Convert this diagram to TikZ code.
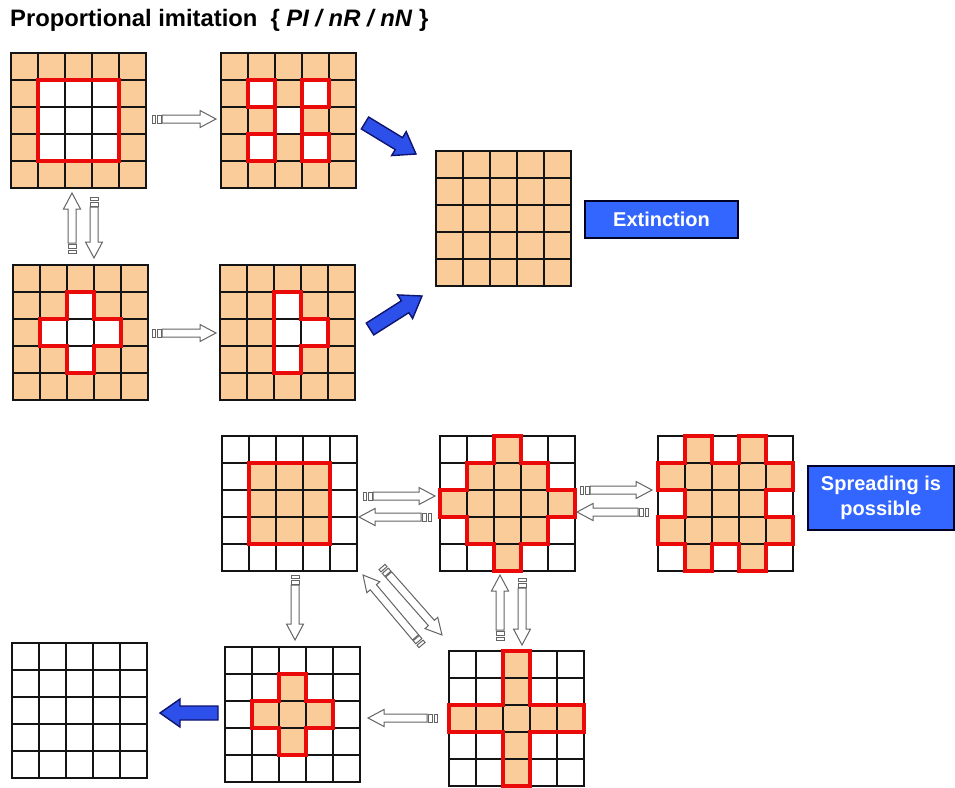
\documentclass[tikz,border=0pt]{standalone}
\usetikzlibrary{calc}
\usepackage{fontspec}
\setmainfont{Liberation Sans}
\definecolor{peach}{RGB}{250,204,153}
\definecolor{redl}{RGB}{235,10,10}
\definecolor{gridk}{RGB}{20,20,20}
\definecolor{boxblue}{RGB}{51,102,255}
\definecolor{arrblue}{RGB}{45,80,235}
\definecolor{navyb}{RGB}{15,20,110}
\definecolor{arrgray}{RGB}{100,100,100}
\tikzset{
 gl/.style={draw=gridk,line width=2pt},
 rl/.style={draw=redl,line width=3.6pt,line join=miter},
 gridnode/.style={inner sep=0pt,minimum size=135pt},
 stripe/.style={draw=arrgray,fill=white,line width=1pt,line join=miter},
 barrow/.style={draw=navyb,fill=arrblue,line width=1.4pt,line join=miter},
 labelbox/.style={draw=black!85!blue,fill=boxblue,line width=1.6pt,text=white,
   font=\bfseries\fontsize{20}{25}\selectfont,align=center,inner sep=0pt},
}
\newcommand\cellsgrid{%
  \foreach \i in {1,...,4}{\draw[gl] (\i,0) -- (\i,5); \draw[gl] (0,\i) -- (5,\i);}%
  \draw[gl] (0,0) rectangle (5,5);}
\newcommand\pcells[1]{\foreach \c/\r in {#1}{\fill[peach] (\c,\r) rectangle ++(1,1);}}
\newcommand\getdir[2]{%
  \path let \p1=(#1), \p2=(#2) in \pgfextra{%
    \pgfmathsetmacro\tmpang{atan2(\y2-\y1,\x2-\x1)}%
    \pgfmathsetmacro\tmplen{veclen(\x2-\x1,\y2-\y1)}%
    \global\let\gang\tmpang \global\let\glen\tmplen};}
\newcommand\stripearrow[2]{%
  \getdir{#1}{#2}%
  \pgfmathsetmacro\hb{\glen-16}%
  \begin{scope}[shift={(#1)},rotate=\gang]
    \draw[stripe] (0pt,-4pt) rectangle (3pt,4pt);
    \draw[stripe] (5pt,-4pt) rectangle (9pt,4pt);
    \draw[stripe] (10pt,-4pt) -- (\hb pt,-4pt) -- (\hb pt,-8.5pt) -- (\glen pt,0pt)
      -- (\hb pt,8.5pt) -- (\hb pt,4pt) -- (10pt,4pt) -- cycle;
  \end{scope}}
\newcommand\bluearrow[2]{%
  \getdir{#1}{#2}%
  \pgfmathsetmacro\hb{\glen-20}%
  \begin{scope}[shift={(#1)},rotate=\gang]
    \draw[barrow] (0pt,-7pt) -- (\hb pt,-7pt) -- (\hb pt,-14pt) -- (\glen pt,0pt)
      -- (\hb pt,14pt) -- (\hb pt,7pt) -- (0pt,7pt) -- cycle;
  \end{scope}}
\begin{document}
\begin{tikzpicture}[x=1pt,y=-1pt]
\useasboundingbox (0,0) rectangle (955,787);
\fill[white] (0,0) rectangle (955,787);

\node[anchor=base west,inner sep=0pt,font=\bfseries\fontsize{23.8}{28}\selectfont] (title) at (10,27)
  {Proportional imitation\hspace{0.55em}\{ \textit{PI / nR / nN} \}};

% ---------- upper part ----------
\begin{scope}[shift={(11,53)},x=27pt,y=-27pt]
  \fill[peach] (0,0) rectangle (5,5);
  \fill[white] (1,1) rectangle (4,4);
  \cellsgrid
  \draw[rl] (1,1) rectangle (4,4);
  \node[gridnode] (A) at (2.5,2.5) {};
\end{scope}
\begin{scope}[shift={(221,53)},x=27pt,y=-27pt]
  \fill[peach] (0,0) rectangle (5,5);
  \foreach \c/\r in {1/1,3/1,2/2,1/3,3/3}{\fill[white] (\c,\r) rectangle ++(1,1);}
  \cellsgrid
  \foreach \c/\r in {1/1,3/1,1/3,3/3}{\draw[rl] (\c,\r) rectangle ++(1,1);}
  \draw[rl] (2,1) -- (2,4);
  \draw[rl] (3,1) -- (3,4);
  \node[gridnode] (B) at (2.5,2.5) {};
\end{scope}
\begin{scope}[shift={(13,265)},x=27pt,y=-27pt]
  \fill[peach] (0,0) rectangle (5,5);
  \foreach \c/\r in {2/1,1/2,2/2,3/2,2/3}{\fill[white] (\c,\r) rectangle ++(1,1);}
  \cellsgrid
  \draw[rl] (2,1) -- (3,1) -- (3,2) -- (4,2) -- (4,3) -- (3,3) -- (3,4) -- (2,4) -- (2,3)
     -- (1,3) -- (1,2) -- (2,2) -- cycle;
  \node[gridnode] (C) at (2.5,2.5) {};
\end{scope}
\begin{scope}[shift={(220,265)},x=27pt,y=-27pt]
  \fill[peach] (0,0) rectangle (5,5);
  \foreach \c/\r in {2/1,2/2,3/2,2/3}{\fill[white] (\c,\r) rectangle ++(1,1);}
  \cellsgrid
  \draw[rl] (2,1) -- (3,1) -- (3,2) -- (4,2) -- (4,3) -- (3,3) -- (3,4) -- (2,4) -- cycle;
  \node[gridnode] (D) at (2.5,2.5) {};
\end{scope}
\begin{scope}[shift={(436,151)},x=27pt,y=-27pt]
  \fill[peach] (0,0) rectangle (5,5);
  \cellsgrid
  \node[gridnode] (E) at (2.5,2.5) {};
\end{scope}
\node[labelbox,minimum width=153pt,minimum height=37pt] (ext) at (661.5,219.5) {Extinction};

% ---------- lower part ----------
\begin{scope}[shift={(222,436)},x=27pt,y=-27pt]
  \fill[peach] (1,1) rectangle (4,4);
  \cellsgrid
  \draw[rl] (1,1) rectangle (4,4);
  \node[gridnode] (F) at (2.5,2.5) {};
\end{scope}
\begin{scope}[shift={(440,436)},x=27pt,y=-27pt]
  \pcells{2/0,1/1,2/1,3/1,0/2,1/2,2/2,3/2,4/2,1/3,2/3,3/3,2/4}
  \cellsgrid
  \draw[rl] (2,0) -- (3,0) -- (3,1) -- (4,1) -- (4,2) -- (5,2) -- (5,3) -- (4,3) -- (4,4)
     -- (3,4) -- (3,5) -- (2,5) -- (2,4) -- (1,4) -- (1,3) -- (0,3) -- (0,2) -- (1,2)
     -- (1,1) -- (2,1) -- cycle;
  \node[gridnode] (G) at (2.5,2.5) {};
\end{scope}
\begin{scope}[shift={(658,436)},x=27pt,y=-27pt]
  \pcells{1/0,3/0,0/1,1/1,2/1,3/1,4/1,1/2,2/2,3/2,0/3,1/3,2/3,3/3,4/3,1/4,3/4}
  \cellsgrid
  \draw[rl] (1,0) -- (2,0) -- (2,1) -- (3,1) -- (3,0) -- (4,0) -- (4,1) -- (5,1) -- (5,2)
     -- (4,2) -- (4,3) -- (5,3) -- (5,4) -- (4,4) -- (4,5) -- (3,5) -- (3,4) -- (2,4)
     -- (2,5) -- (1,5) -- (1,4) -- (0,4) -- (0,3) -- (1,3) -- (1,2) -- (0,2) -- (0,1)
     -- (1,1) -- cycle;
  \node[gridnode] (H) at (2.5,2.5) {};
\end{scope}
\node[labelbox,minimum width=146pt,minimum height=64pt] (spr) at (881,498) {Spreading is\\possible};
\begin{scope}[shift={(12,643)},x=27pt,y=-27pt]
  \cellsgrid
  \node[gridnode] (I) at (2.5,2.5) {};
\end{scope}
\begin{scope}[shift={(225,647)},x=27pt,y=-27pt]
  \pcells{2/1,1/2,2/2,3/2,2/3}
  \cellsgrid
  \draw[rl] (2,1) -- (3,1) -- (3,2) -- (4,2) -- (4,3) -- (3,3) -- (3,4) -- (2,4) -- (2,3)
     -- (1,3) -- (1,2) -- (2,2) -- cycle;
  \node[gridnode] (J) at (2.5,2.5) {};
\end{scope}
\begin{scope}[shift={(449,651)},x=27pt,y=-27pt]
  \pcells{2/0,2/1,0/2,1/2,2/2,3/2,4/2,2/3,2/4}
  \cellsgrid
  \draw[rl] (2,0) -- (3,0) -- (3,2) -- (5,2) -- (5,3) -- (3,3) -- (3,5) -- (2,5) -- (2,3)
     -- (0,3) -- (0,2) -- (2,2) -- cycle;
  \node[gridnode] (K) at (2.5,2.5) {};
\end{scope}

% ---------- arrow end points ----------
\coordinate (ab1) at (152,119);  \coordinate (ab2) at (216,119);
\coordinate (ac1) at (94,197);   \coordinate (ac2) at (94,258);
\coordinate (ca1) at (72,253);   \coordinate (ca2) at (72,193);
\coordinate (cd1) at (152,333);  \coordinate (cd2) at (216,333);
\coordinate (be1) at (365,123);  \coordinate (be2) at (416,154);
\coordinate (de1) at (370,329);  \coordinate (de2) at (422,296);
\coordinate (fg1) at (363,496);  \coordinate (fg2) at (435,496);
\coordinate (gf1) at (431,517);  \coordinate (gf2) at (359,517);
\coordinate (gh1) at (580,490);  \coordinate (gh2) at (652,490);
\coordinate (hg1) at (648,512);  \coordinate (hg2) at (577,512);
\coordinate (fj1) at (295,575);  \coordinate (fj2) at (295,640);
\coordinate (kf1) at (422,645);  \coordinate (kf2) at (363,575);
\coordinate (fk1) at (382,567);  \coordinate (fk2) at (442,635);
\coordinate (kg1) at (500,640);  \coordinate (kg2) at (500,575);
\coordinate (gk1) at (522,578);  \coordinate (gk2) at (522,645);
\coordinate (kj1) at (437,718);  \coordinate (kj2) at (368,718);
\coordinate (ji1) at (218,713);  \coordinate (ji2) at (160,713);

\stripearrow{ab1}{ab2}
\stripearrow{ac1}{ac2}
\stripearrow{ca1}{ca2}
\stripearrow{cd1}{cd2}
\stripearrow{fg1}{fg2}
\stripearrow{gf1}{gf2}
\stripearrow{gh1}{gh2}
\stripearrow{hg1}{hg2}
\stripearrow{fj1}{fj2}
\stripearrow{kf1}{kf2}
\stripearrow{fk1}{fk2}
\stripearrow{kg1}{kg2}
\stripearrow{gk1}{gk2}
\stripearrow{kj1}{kj2}
\bluearrow{be1}{be2}
\bluearrow{de1}{de2}
\bluearrow{ji1}{ji2}
\end{tikzpicture}
\end{document}
